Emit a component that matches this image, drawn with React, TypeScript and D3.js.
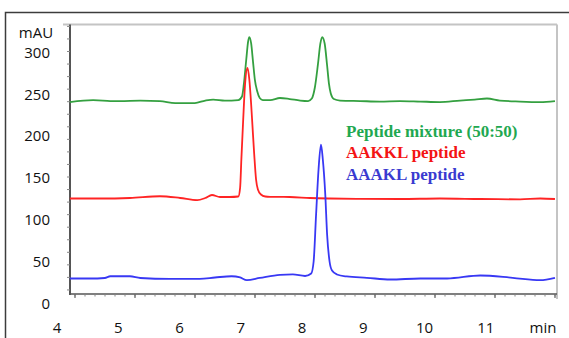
import React from "react";
import * as d3 from "d3";

// retention time (min), absorbance (mAU)
const mixtureTrace: [number, number][] = [
  [4.21, 239.6], [4.59, 241.8], [4.87, 240.8], [5.03, 240.6], [5.36, 241.4], [5.68, 240.8],
  [5.93, 238.4], [6.25, 238.4], [6.42, 241.4], [6.55, 242.6], [6.74, 241.4], [6.96, 242.0],
  [7.02, 246.2], [7.05, 260.6], [7.09, 290.4], [7.12, 311.9], [7.14, 317.3], [7.17, 309.6],
  [7.2, 288.0], [7.23, 266.5], [7.27, 252.2], [7.31, 244.4], [7.36, 242.0], [7.48, 242.0],
  [7.64, 244.4], [7.8, 243.2], [7.97, 241.4], [8.1, 240.8], [8.16, 243.8], [8.21, 257.0],
  [8.26, 284.5], [8.3, 309.6], [8.33, 317.3], [8.37, 309.6], [8.41, 283.3], [8.44, 261.7],
  [8.47, 249.8], [8.52, 243.2], [8.62, 241.4], [8.95, 240.8], [9.27, 240.2], [9.6, 240.8],
  [9.93, 240.2], [10.25, 239.6], [10.58, 241.4], [10.82, 242.6], [11.02, 243.8], [11.23, 241.4],
  [11.56, 240.2], [11.89, 239.6], [12.13, 240.8],
];

const aakklTrace: [number, number][] = [
  [4.21, 124.3], [4.7, 124.3], [5.19, 124.9], [5.68, 127.0], [6.01, 124.9], [6.29, 122.3],
  [6.42, 124.9], [6.53, 128.5], [6.66, 126.1], [6.82, 126.1], [6.96, 126.7], [6.99, 137.4],
  [7.01, 170.9], [7.04, 218.7], [7.07, 260.6], [7.11, 280.3], [7.14, 266.5], [7.17, 236.6],
  [7.19, 212.7], [7.22, 176.9], [7.25, 147.0], [7.28, 135.1], [7.33, 129.1], [7.4, 126.7],
  [7.48, 126.3], [7.8, 126.1], [8.13, 124.9], [8.46, 124.3], [8.95, 123.9], [9.6, 123.7],
  [10.25, 124.3], [10.91, 123.7], [11.56, 123.3], [11.89, 124.3], [12.13, 123.7],
];

const aaaklTrace: [number, number][] = [
  [4.21, 28.7], [4.54, 28.7], [4.78, 29.3], [4.87, 31.4], [5.19, 31.4], [5.36, 29.3],
  [5.84, 28.3], [6.33, 28.3], [6.58, 29.9], [6.85, 31.4], [6.99, 29.9], [7.1, 26.7],
  [7.31, 29.3], [7.64, 33.1], [7.85, 33.5], [8.05, 31.7], [8.15, 34.7], [8.19, 49.0],
  [8.23, 105.2], [8.27, 159.0], [8.31, 188.8], [8.34, 170.9], [8.38, 129.1], [8.41, 81.3],
  [8.45, 49.0], [8.49, 38.2], [8.57, 33.5], [8.73, 31.1], [9.06, 29.5], [9.44, 27.5],
  [9.93, 28.7], [10.37, 28.7], [10.91, 32.3], [11.44, 29.5], [11.89, 26.7], [12.13, 29.5],
];

const xTickLabels = [4, 5, 6, 7, 8, 9, 10, 11];
const xUnit = "min";
const yTickLabels = [0, 50, 100, 150, 200, 250, 300];
const yUnit = "mAU";

const legendItems = ["Peptide mixture (50:50)", "AAKKL peptide", "AAAKL peptide"];
const traces = [mixtureTrace, aakklTrace, aaaklTrace];
const lineColors = ["#34a040", "#ff2424", "#3838f4"];
const textColors = ["#1fa851", "#f41414", "#3a3ad0"];

export default function App() {
  const W = 569;
  const H = 338;
  // data scales (label positions)
  const x = d3.scaleLinear().domain([4, 12]).range([57, 547]);
  const y = d3.scaleLinear().domain([0, 300]).range([302.5, 51.5]);
  // instrument frame tick scale
  const xi = d3.scaleLinear().domain([4, 12]).range([75, 555]);

  const left = 70;
  const right = 557;
  const top = 24.5;
  const bottom = 294;

  const line = d3
    .line<[number, number]>()
    .x((d) => x(d[0]))
    .y((d) => y(d[1]))
    .curve(d3.curveMonotoneX);

  const majorX = d3.range(4, 12.001, 1);
  const minorX = d3.range(4, 12.001, 1 / 6);
  const leftTicks = d3.range(15, 331, 15);

  return (
    <svg
      width={W}
      height={H}
      style={{ position: "absolute", left: 0, top: 0, background: "#fff" }}
    >
      <rect x={0} y={0} width={W} height={H} fill="#fff" />
      {/* outer frame */}
      <rect x={5.5} y={12.5} width={700} height={500} fill="none" stroke="#3c3c3c" strokeWidth={1.5} />

      {/* plot frame */}
      <line x1={63} x2={right} y1={top} y2={top} stroke="#c4c4c4" strokeWidth={2} />
      <line x1={right} x2={right} y1={top} y2={299} stroke="#c4c4c4" strokeWidth={2} />

      {/* bottom axis */}
      <line x1={left} x2={right} y1={bottom} y2={bottom} stroke="#555" strokeWidth={1.5} />
      {minorX.map((t, i) => (
        <line key={"mx" + i} x1={xi(t)} x2={xi(t)} y1={bottom} y2={bottom + 2.5} stroke="#888" strokeWidth={1} />
      ))}
      {majorX.map((t, i) => (
        <line key={"Mx" + i} x1={xi(t)} x2={xi(t)} y1={bottom} y2={bottom + 4} stroke="#666" strokeWidth={1.2} />
      ))}

      {/* left axis */}
      <line x1={left} x2={left} y1={top} y2={bottom + 1} stroke="#555" strokeWidth={2} />
      {leftTicks.map((v, i) => (
        <line key={"ly" + i} x1={left - 3} x2={left} y1={y(v)} y2={y(v)} stroke="#888" strokeWidth={1} />
      ))}

      {/* traces */}
      {traces.map((tr, i) => (
        <path
          key={"tr" + i}
          d={line(tr) || ""}
          fill="none"
          stroke={lineColors[i]}
          strokeWidth={1.8}
          strokeLinejoin="round"
        />
      ))}

      {/* axis labels */}
      <g fontFamily="'Open Sans', sans-serif" fontSize={15} fill="#111">
        <text x={36} y={32.5} dy="0.35em" textAnchor="middle">{yUnit}</text>
        {yTickLabels.map((v) => (
          <text key={"yl" + v} x={50} y={y(v) + 1} dy="0.35em" textAnchor="end">
            {v}
          </text>
        ))}
        {xTickLabels.map((t) => (
          <text key={"xl" + t} x={x(t)} y={327.5} dy="0.35em" textAnchor="middle">
            {t}
          </text>
        ))}
        <text x={x(12) - 4} y={327.5} dy="0.35em" textAnchor="middle">{xUnit}</text>
      </g>

      {/* legend */}
      <g fontFamily="'Liberation Serif', 'Times New Roman', serif" fontWeight="bold" fontSize={17}>
        {legendItems.map((s, i) => (
          <text key={"lg" + i} x={346} y={136.5 + i * 21.8} fill={textColors[i]}>
            {s}
          </text>
        ))}
      </g>
    </svg>
  );
}
